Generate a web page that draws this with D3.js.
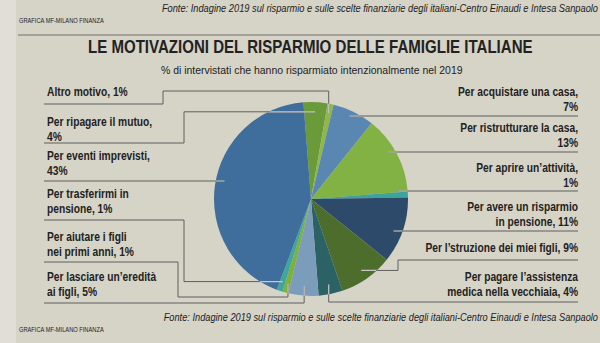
<!DOCTYPE html>
<html>
<head>
<meta charset="utf-8">
<script src="https://cdn.jsdelivr.net/npm/d3@7"></script>
<style>
  body { margin: 0; background: #d6d3c7; }
  svg text { font-family: "Liberation Sans", Arial, sans-serif; fill: #222; }
</style>
</head>
<body>
<svg id="chart" width="600" height="343"></svg>
<script>
// slices, clockwise from the top
const categories = [
  "Per ripagare il mutuo", "Altro motivo", "Per acquistare una casa",
  "Per ristrutturare la casa", "Per aprire un'attività", "Per avere un risparmio in pensione",
  "Per l'struzione dei miei figli", "Per pagare l'assistenza medica nella vecchiaia",
  "Per lasciare un'eredità ai figli", "Per aiutare i figli nei primi anni",
  "Per trasferirmi in pensione", "Per eventi imprevisti"
];
const values = [4, 1, 7, 13, 1, 11, 9, 4, 5, 1, 1, 43];
const colors = ["#6b9a3b", "#8fb74e", "#5a86b2", "#82b243", "#3ea39b", "#2e4a6b",
                "#4d6d2d", "#2b6265", "#7c9cbc", "#7fb03c", "#3fa69c", "#3f6e9c"];
// label text lines as printed
const labelLines = [
  ["Per ripagare il mutuo,", "4%"],
  ["Altro motivo, 1%"],
  ["Per acquistare una casa,", "7%"],
  ["Per ristrutturare la casa,", "13%"],
  ["Per aprire un’attività,", "1%"],
  ["Per avere un risparmio", "in pensione, 11%"],
  ["Per l’struzione dei miei figli, 9%"],
  ["Per pagare l’assistenza", "medica nella vecchiaia, 4%"],
  ["Per lasciare un’eredità", "ai figli, 5%"],
  ["Per aiutare i figli", "nei primi anni, 1%"],
  ["Per trasferirmi in", "pensione, 1%"],
  ["Per eventi imprevisti,", "43%"]
];
const title = "LE MOTIVAZIONI DEL RISPARMIO DELLE FAMIGLIE ITALIANE";
const subtitle = "% di intervistati che hanno risparmiato intenzionalmente  nel 2019";
const source = "Fonte:  Indagine 2019 sul risparmio e sulle scelte finanziarie degli italiani-Centro Einaudi e Intesa Sanpaolo";
const credit = "GRAFICA MF-MILANO FINANZA";

// layout of each label: side, first baseline, underline y, routing of the leader
const layout = [
  { side: "L", y: 126, line: 143, elbow: 184 },
  { side: "L", y: 96,  line: 104, elbow: 163, jog: 91 },
  { side: "R", y: 96,  line: 116 },
  { side: "R", y: 132, line: 152 },
  { side: "R", y: 172, line: 191 },
  { side: "R", y: 211, line: 231 },
  { side: "R", y: 252, line: 260, elbow: 398 },
  { side: "R", y: 281, line: 302, down: true },
  { side: "L", y: 281, line: 303, up: true },
  { side: "L", y: 241, line: 262, elbow: 178, jog: 297 },
  { side: "L", y: 198, line: 220, elbow: 184 },
  { side: "L", y: 160, line: 181 }
];

const svg = d3.select("#chart");
const cx = 311, cy = 199, R = 97;
const leftX = 44, rightX = 578;
const narrow = 0.8; // newspaper condensed face

// paper
svg.append("rect").attr("width", 600).attr("height", 343).attr("fill", "#d6d3c7");
svg.append("rect").attr("width", 16).attr("height", 343).attr("fill", "#e0ded6");

// squeeze a one-line text horizontally so it spans the given width
function fitted(x, y, str, size, width, anchor, style, weight) {
  const grp = svg.append("g");
  const t = grp.append("text").attr("x", 0).attr("y", y).attr("text-anchor", anchor || "start")
    .attr("font-size", size).attr("font-style", style || "normal")
    .attr("font-weight", weight || "normal").text(str);
  const k = width / t.node().getComputedTextLength();
  grp.attr("transform", `translate(${x},0) scale(${k},1)`);
  return t;
}

fitted(598, 12, source, 11, 437, "end", "italic");
fitted(19, 23.5, credit, 7, 85);
svg.append("line").attr("x1", 18).attr("x2", 600).attr("y1", 35).attr("y2", 35)
  .attr("stroke", "#555").attr("stroke-width", 0.8);

fitted(88, 53.5, title, 17.5, 445, "start", "normal", "bold");
fitted(161, 74, subtitle, 10.5, 302);

// pie
const pie = d3.pie().sort(null).value(d => d)
  .startAngle(-4.5 * Math.PI / 180).endAngle((360 - 4.5) * Math.PI / 180);
const arcs = pie(values);
const arc = d3.arc().innerRadius(0).outerRadius(R);
const g = svg.append("g").attr("transform", `translate(${cx},${cy})`);
g.selectAll("path").data(arcs).enter().append("path")
  .attr("d", arc).attr("fill", (d, i) => colors[i]);

// leader lines
function anchor(a) {
  const m = (a.startAngle + a.endAngle) / 2;
  return [cx + 0.9 * R * Math.sin(m), cy - 0.9 * R * Math.cos(m)];
}
function route(i) {
  const L = layout[i];
  const [ax, ay] = anchor(arcs[i]);
  if (L.side === "L") {
    if (L.up) return [[leftX, L.line], [ax, L.line], [ax, ay]];
    if (L.elbow === undefined) return [[leftX, L.line], [ax, L.line]];
    const jog = L.jog === undefined ? ay : L.jog;
    return [[leftX, L.line], [L.elbow, L.line], [L.elbow, jog], [ax, jog], [ax, ay]];
  }
  if (L.down) return [[ax, ay], [ax, L.line], [rightX, L.line]];
  if (L.elbow === undefined) return [[ax, L.line], [rightX, L.line]];
  return [[ax, ay], [L.elbow, ay], [L.elbow, L.line], [rightX, L.line]];
}
const lineGen = d3.line();
svg.append("clipPath").attr("id", "pieclip").append("circle")
  .attr("cx", cx).attr("cy", cy).attr("r", R);
const routes = values.map((v, i) => route(i));
svg.append("g").selectAll("path").data(routes).enter().append("path")
  .attr("d", lineGen).attr("fill", "none").attr("stroke", "#5f5f5f").attr("stroke-width", 1);
svg.append("g").attr("clip-path", "url(#pieclip)").selectAll("path").data(routes).enter().append("path")
  .attr("d", lineGen).attr("fill", "none").attr("stroke", "#c9c9c4").attr("stroke-width", 1.2);

// labels, condensed by a horizontal scale
labelLines.forEach((lines, i) => {
  const L = layout[i];
  const x = L.side === "L" ? 47 : rightX;
  const t = svg.append("g").attr("transform", `translate(${x},0) scale(${narrow},1)`)
    .append("text").attr("text-anchor", L.side === "L" ? "start" : "end")
    .attr("font-size", 12.8).attr("font-weight", "bold");
  lines.forEach((s, k) => {
    t.append("tspan").attr("x", 0).attr("y", L.y + k * 15).text(s);
  });
});

fitted(598, 321, source.replace("Fonte:  ", "Fonte: "), 11, 435, "end", "italic");
fitted(19, 332.5, credit, 7, 85);
</script>
</body>
</html>
